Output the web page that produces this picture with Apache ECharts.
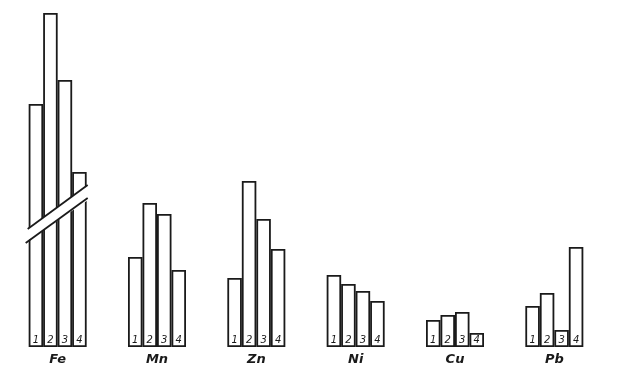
<!DOCTYPE html>
<html><head><meta charset="utf-8">
<script src="https://cdn.jsdelivr.net/npm/echarts@6/dist/echarts.min.js"></script>
<style>html,body{margin:0;padding:0;background:#fff}#c{width:640px;height:392px}</style>
</head><body><div id="c"></div>
<script>
const categories = ['Fe', 'Mn', 'Zn', 'Ni', 'Cu', 'Pb'];
const sample1 = [243, 90, 69, 72, 27, 41];
const sample2 = [334, 144, 166, 63, 32, 54];
const sample3 = [267, 133, 128, 56, 35, 17];
const sample4 = [175, 77, 98, 46, 14, 100];
const barLabels = ['1', '2', '3', '4'];
// Fe axis break: [category index, upper-left, upper-right, lower-left, lower-right]
const feBreak = [[0, 118, 162, 104, 149]];

const BAR_W = 14.5;
const INK = '#1a1a1a';
const allSeries = [sample1, sample2, sample3, sample4];

const chart = echarts.init(document.getElementById('c'), null, {renderer: 'canvas'});
const series = allSeries.map((vals, i) => ({
  type: 'bar',
  name: barLabels[i],
  data: vals,
  barWidth: BAR_W,
  barGap: '0%',
  itemStyle: {color: '#fff', borderColor: INK, borderWidth: 1.8},
  label: {
    show: true, position: 'insideBottom', distance: 2,
    formatter: barLabels[i], color: INK, fontSize: 10, fontStyle: 'italic',
    fontFamily: 'DejaVu Sans'
  },
  z: 2
}));
series.push({
  type: 'custom',
  data: feBreak,
  z: 5,
  clip: false,
  renderItem: function (params, api) {
    const cx = api.coord([api.value(0), 0])[0];
    const half = 2 * BAR_W + 2;
    const xl = cx - half, xr = cx + half;
    const yUL = api.coord([api.value(0), api.value(1)])[1];
    const yUR = api.coord([api.value(0), api.value(2)])[1];
    const yLL = api.coord([api.value(0), api.value(3)])[1];
    const yLR = api.coord([api.value(0), api.value(4)])[1];
    return {
      type: 'group',
      children: [
        {type: 'polygon', shape: {points: [[xl - 1, yUL + 1], [xr + 1, yUR - 1], [xr + 1, yLR + 1], [xl - 1, yLL - 1]]},
          style: {fill: '#fff', stroke: null}},
        {type: 'line', shape: {x1: xl + 1, y1: yUL, x2: xr - 1, y2: yUR}, style: {stroke: INK, lineWidth: 1.8}},
        {type: 'line', shape: {x1: xl - 1, y1: yLL, x2: xr - 1, y2: yLR}, style: {stroke: INK, lineWidth: 1.8}}
      ]
    };
  }
});

chart.setOption({
  animation: false,
  backgroundColor: '#fff',
  grid: {left: 8, right: 36, top: 7, bottom: 45},
  xAxis: {
    type: 'category', data: categories,
    axisLine: {show: false}, axisTick: {show: false},
    axisLabel: {color: INK, fontSize: 13, fontStyle: 'italic', fontWeight: 'bold',
      fontFamily: 'DejaVu Sans', margin: 6}
  },
  yAxis: {type: 'value', min: 0, max: 340, show: false, splitLine: {show: false}},
  series: series
});
</script></body></html>
